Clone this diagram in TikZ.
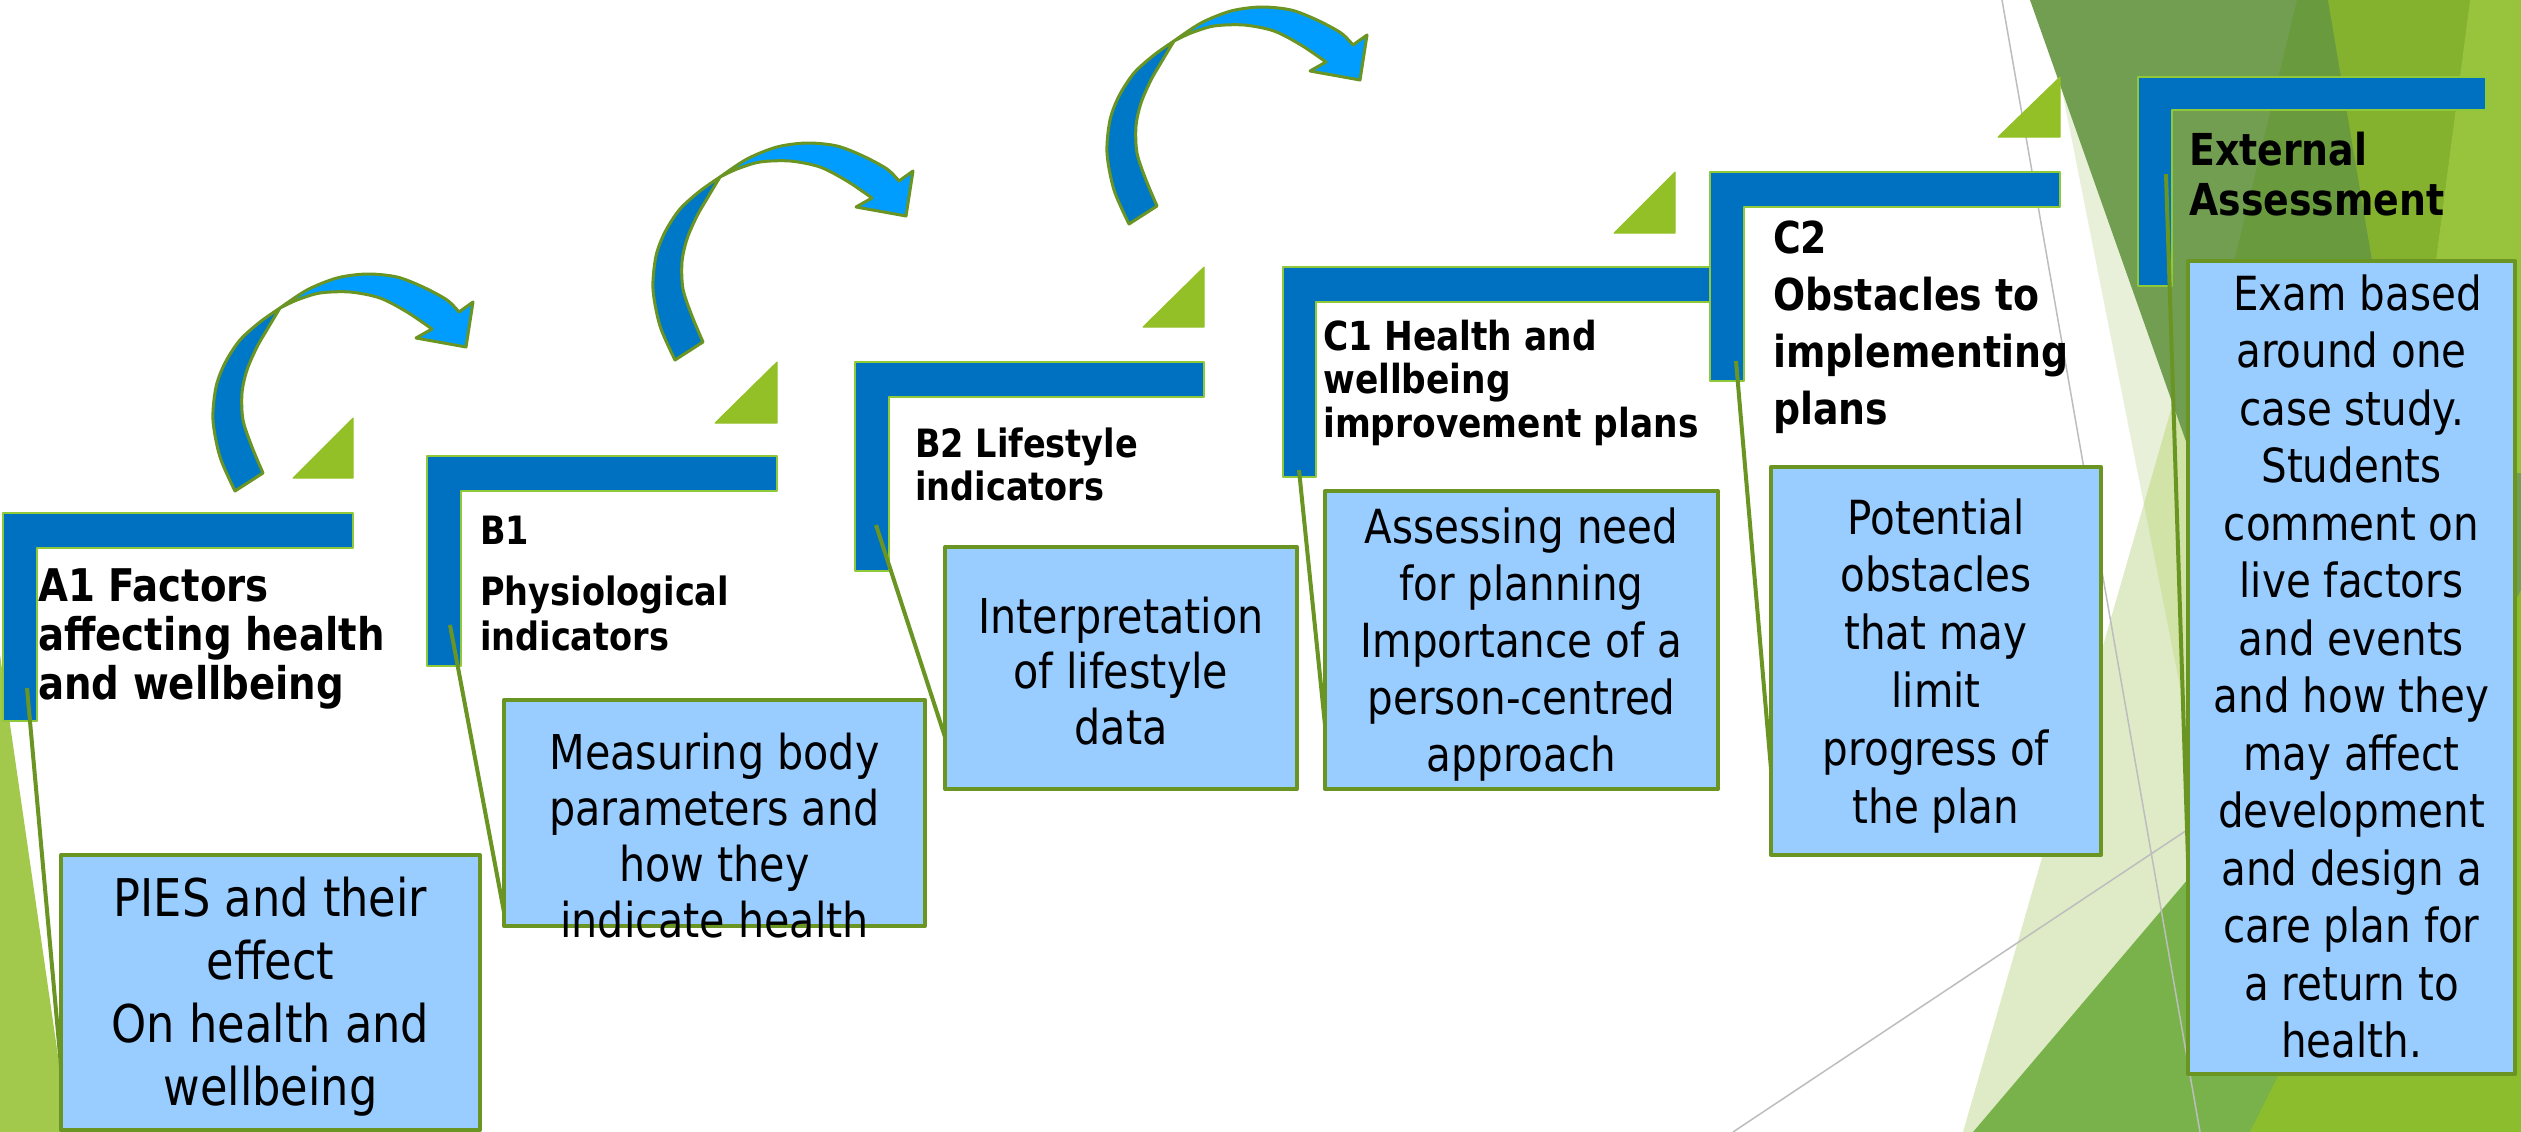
\documentclass[tikz,border=0pt]{standalone}
\usepackage{fontspec}
\usepackage{graphicx}
\newfontfamily\tah{DejaVu Sans}[FakeStretch=0.86]
\definecolor{bblue}{HTML}{0070C0}
\definecolor{bgreen}{HTML}{8FC93A}
\definecolor{tgreen}{HTML}{92C026}
\definecolor{olv}{HTML}{6B9523}
\definecolor{lblue}{HTML}{99CCFF}
\definecolor{adark}{HTML}{0078C8}
\definecolor{alight}{HTML}{009DFF}
\definecolor{leftg}{HTML}{A3C94C}
\definecolor{paleA}{HTML}{E8F0DA}
\definecolor{paleB}{HTML}{DEEBC6}
\definecolor{paleC}{HTML}{D2E3A8}
\definecolor{sage}{HTML}{729E52}
\definecolor{bandg}{HTML}{699B3E}
\definecolor{ygreen}{HTML}{84B22E}
\definecolor{lgreen}{HTML}{98C33C}
\definecolor{midg}{HTML}{79B24A}
\definecolor{ygreenB}{HTML}{8CBD2D}
\definecolor{gline}{HTML}{BDBDBD}
\newcommand\tb[4]{{\fontsize{#1}{#2}\selectfont\begin{tabular}[t]{@{}#3@{}}#4\end{tabular}}}
\newcommand\bracketL[6]{\path[bracket] (#1,#2) -- (#3,#2) -- (#3,#4) -- (#5,#4) -- (#5,#6) -- (#1,#6) -- cycle;}
\tikzset{
  bracket/.style={fill=bblue, draw=bgreen, line width=2.7pt},
  tri/.style={fill=tgreen, draw=tgreen, line width=1pt, line join=round},
  tbox/.style={draw=olv, fill=lblue, line width=4pt, inner sep=0pt, rectangle},
  link/.style={draw=olv, line width=4pt},
  hdr/.style={inner sep=0pt, font=\tah\bfseries, text=black},
  body/.style={inner sep=0pt, font=\tah, text=black},
  greyline/.style={draw=gline, line width=1.5pt},
  arrdark/.style={fill=adark, draw=olv, line width=3pt, line join=round},
  arrlight/.style={fill=alight, draw=olv, line width=3pt, line join=round},
  curvarrow/.pic={
    \draw[arrdark] (235,491) -- plot[smooth] coordinates {(263,473) (252,447) (243,420) (242,393) (247,370) (257,347) (268,328) (280,308)} -- plot[smooth] coordinates {(280,308) (260,322) (240,340) (225,363) (216,387) (213,420) (220,457) (235,491)} -- cycle;
    \draw[arrlight] plot[smooth] coordinates {(280,308) (307,290) (337,278) (367,274) (397,277) (423,287) (447,300) (459,312)} -- (473,302) -- (466,347) -- (416,338) -- (432,329) -- plot[smooth] coordinates {(432,329) (407,312) (380,298) (350,292) (320,293) (297,300) (280,308)} -- cycle;
  }
}
\begin{document}
\begin{tikzpicture}[x=1pt,y=-1pt,line join=round]
\useasboundingbox (0,0) rectangle (2521,1132);
\clip (0,0) rectangle (2521,1132);
\fill[white] (0,0) rectangle (2521,1132);
% background
\fill[leftg] (0,655) -- (69,1132) -- (0,1132) -- cycle;
\fill[paleB] (1963,1132) -- (2289,0) -- (2521,0) -- (2521,1132) -- cycle;
\fill[paleA] (2060,80) -- (2268,1132) -- (2521,1132) -- (2521,80) -- cycle;
\begin{scope}
  \clip (1963,1132) -- (2289,0) -- (2521,0) -- (2521,1132) -- cycle;
  \fill[paleC] (2060,80) -- (2268,1132) -- (2521,1132) -- (2521,80) -- cycle;
\end{scope}
\fill[sage] (2030,0) -- (2521,0) -- (2521,1132) -- (2430,1132) -- cycle;
\begin{scope}
  \clip (2030,0) -- (2521,0) -- (2521,1132) -- (2430,1132) -- cycle;
  \fill[bandg] (2297,0) -- (2328,0) -- (2520,1132) -- (2025,1132) -- cycle;
\end{scope}
\fill[ygreen] (2328,0) -- (2470,0) -- (2408,473) -- cycle;
\fill[lgreen] (2470,0) -- (2521,0) -- (2521,473) -- (2408,473) -- cycle;
\fill[midg] (1973,1132) -- (2330,712) -- (2521,712) -- (2521,1132) -- cycle;
\fill[ygreenB] (2250,1132) -- (2521,590) -- (2521,1132) -- cycle;
\draw[greyline] (2002,0) -- (2200,1132);
\draw[greyline] (1733,1132) -- (2187,830);
% curved arrows
\pic at (0,0) {curvarrow};
\pic at (440,-131) {curvarrow};
\pic at (894,-267) {curvarrow};
% small triangles
\path[tri] (293,478) -- (353,418) -- (353,478) -- cycle;
\path[tri] (715,423) -- (777,362) -- (777,423) -- cycle;
\path[tri] (1143,327) -- (1204,267) -- (1204,327) -- cycle;
\path[tri] (1614,233) -- (1675,172) -- (1675,233) -- cycle;
\path[tri] (1998,137) -- (2060,77) -- (2060,137) -- cycle;
% brackets
\bracketL{3}{513}{353}{548}{37}{721}
\bracketL{427}{456}{777}{491}{461}{666}
\bracketL{855}{362}{1204}{397}{889}{571}
\bracketL{1283}{267}{1725}{302}{1316}{477}
\bracketL{1710}{172}{2060}{207}{1744}{381}
\bracketL{2138}{77}{2486}{110}{2172}{286}
% connector end points
\coordinate (kA) at (27,688);   \coordinate (eA) at (61,1066);
\coordinate (kB) at (450,625);  \coordinate (eB) at (504,912);
\coordinate (kC) at (876,525);  \coordinate (eC) at (945,737);
\coordinate (kD) at (1299,470); \coordinate (eD) at (1325,725);
\coordinate (kE) at (1736,361); \coordinate (eE) at (1771,769);
\coordinate (kF) at (2166,174); \coordinate (eF) at (2188,860);
\draw[link] (kA) -- (eA);
\draw[link] (kB) -- (eB);
\draw[link] (kC) -- (eC);
\draw[link] (kD) -- (eD);
\draw[link] (kE) -- (eE);
\draw[link] (kF) -- (eF);
% boxes
\node[tbox, minimum width=419pt, minimum height=275pt] (bA) at (270.5,992.5) {};
\node[tbox, minimum width=421pt, minimum height=226pt] (bB) at (714.5,813) {};
\node[tbox, minimum width=352pt, minimum height=242pt] (bC) at (1121,668) {};
\node[tbox, minimum width=393pt, minimum height=298pt] (bD) at (1521.5,640) {};
\node[tbox, minimum width=330pt, minimum height=388pt] (bE) at (1936,661) {};
\node[tbox, minimum width=327pt, minimum height=813pt] (bF) at (2351.5,667.5) {};
% headers
\node[hdr, anchor=base west] (hA) at (38,601) {\tb{45}{49}{l}{A1 Factors\\affecting health\\and wellbeing}};
\node[hdr, anchor=base west] (hB) at (480,544) {\tb{39}{45}{l}{B1\\[16pt]Physiological\\indicators}};
\node[hdr, anchor=base west] (hC) at (915,457) {\tb{39}{43}{l}{B2 Lifestyle\\indicators}};
\node[hdr, anchor=base west] (hD) at (1323,350) {\tb{40}{43.5}{l}{C1 Health and\\wellbeing\\improvement plans}};
\node[hdr, anchor=base west] (hE) at (1773,253) {\tb{44}{57.3}{l}{C2\\Obstacles to\\implementing\\plans}};
\node[hdr, anchor=base west] (hF) at (2189,165) {\tb{44}{50}{l}{External\\Assessment}};
% body texts
\node[body, anchor=base] (tA) at (270.5,916) {\tb{52}{63}{c}{PIES and their\\effect\\On health and\\wellbeing}};
\node[body, anchor=base] (tB) at (714.5,769) {\tb{48}{56.3}{c}{Measuring body\\parameters and\\how they\\indicate health}};
\node[body, anchor=base] (tC) at (1121,633) {\tb{48}{55.5}{c}{Interpretation\\of lifestyle\\data}};
\node[body, anchor=base] (tD) at (1521.5,543) {\tb{47}{57}{c}{Assessing need\\for planning\\Importance of a\\person-centred\\approach}};
\node[body, anchor=base] (tE) at (1936,534) {\tb{47}{57.8}{c}{Potential\\obstacles\\that may\\limit\\progress of\\the plan}};
\node[body, anchor=base] (tF) at (2351.5,310) {\tb{47}{57.5}{c}{\hspace*{12pt}Exam based\\around one\\case study.\\Students\\comment on\\live factors\\and events\\and how they\\may affect\\development\\and design a\\care plan for\\a return to\\health.}};
\end{tikzpicture}
\end{document}
